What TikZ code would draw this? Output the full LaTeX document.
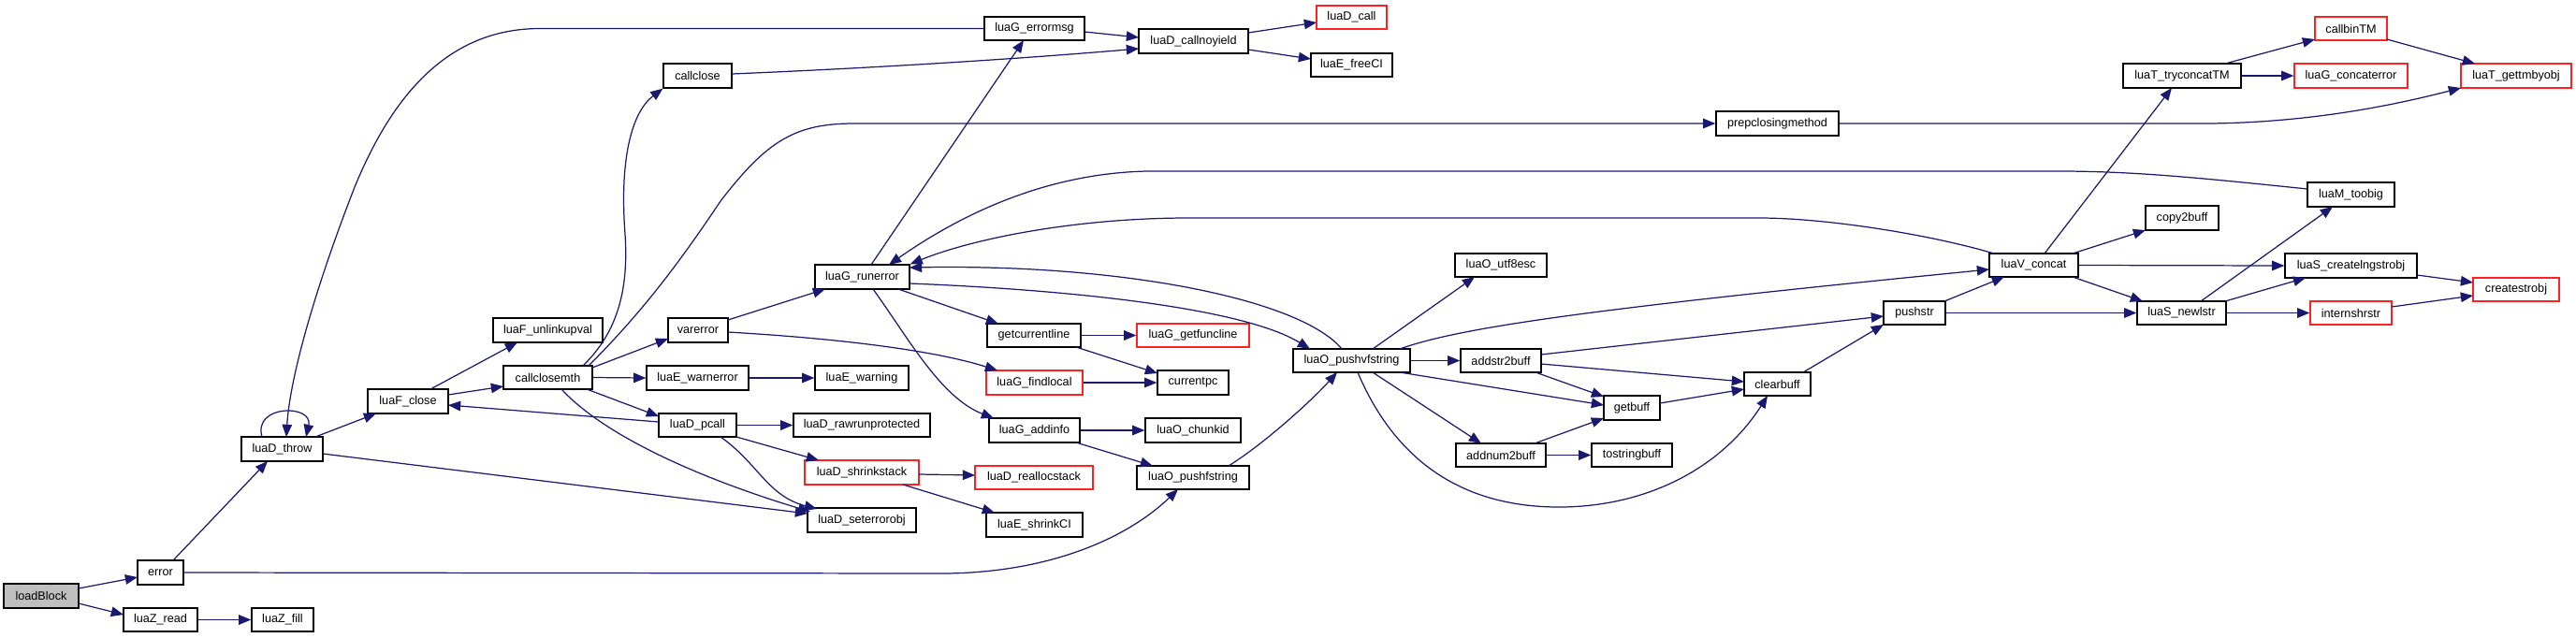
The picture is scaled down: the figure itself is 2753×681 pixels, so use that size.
\documentclass[tikz,border=0pt]{standalone}
\usepackage{fontspec}
\setmainfont{Liberation Sans}
\usetikzlibrary{arrows.meta}
\definecolor{edgecol}{HTML}{191970}
\definecolor{redb}{HTML}{FF2020}
\definecolor{grayfill}{HTML}{BFBFBF}
\newcommand\gnode[7][]{\node[box,#1,minimum width={(#5-#3)*0.02cm},minimum height={(#6-#4)*0.02cm}] (#2) at ({(#3+#5)/2},{(#4+#6)/2}) {#7};}
\begin{document}
\begin{tikzpicture}[x=0.02cm,y=-0.02cm,
  box/.style={draw=black, line width=0.75pt, fill=white, inner sep=0pt, font=\fontsize{7.2pt}{8pt}\selectfont, text=black},
  redbox/.style={draw=redb},
  rootbox/.style={fill=grayfill},
  e/.style={draw=edgecol, line width=0.7pt, -{Triangle[length=7.5pt,width=6pt]}, fill=none}]
\useasboundingbox (0,0) rectangle (2753,681);
% nodes
\gnode[rootbox]{loadBlock}{4}{624}{84}{650}{loadBlock}
\gnode{error}{147}{599}{196}{625}{error}
\gnode{luaZread}{132}{650}{211}{675}{luaZ\_read}
\gnode{luaZfill}{269}{650}{335}{675}{luaZ\_fill}
\gnode{luaDthrow}{258}{467}{345}{493}{luaD\_throw}
\gnode{luaFclose}{393}{416}{479}{442}{luaF\_close}
\gnode{luaFunlinkupval}{527}{340}{644}{366}{luaF\_unlinkupval}
\gnode{callclosemth}{538}{391}{633}{416}{callclosemth}
\gnode{callclose}{709}{68}{782}{94}{callclose}
\gnode{luaGerrormsg}{1052}{18}{1159}{43}{luaG\_errormsg}
\gnode{luaDcallnoyield}{1217}{31}{1334}{57}{luaD\_callnoyield}
\gnode{luaGrunerror}{871}{283}{972}{309}{luaG\_runerror}
\gnode{varerror}{714}{340}{778}{366}{varerror}
\gnode{luaEwarnerror}{691}{391}{800}{417}{luaE\_warnerror}
\gnode{luaEwarning}{871}{391}{971}{417}{luaE\_warning}
\gnode{luaDpcall}{704}{442}{787}{467}{luaD\_pcall}
\gnode{luaDrawrun}{848}{442}{994}{467}{luaD\_rawrunprotected}
\gnode[redbox]{luaDshrinkstack}{860}{492}{982}{518}{luaD\_shrinkstack}
\gnode{luaDseterrorobj}{863}{543}{979}{569}{luaD\_seterrorobj}
\gnode{getcurrentline}{1055}{346}{1155}{371}{getcurrentline}
\gnode[redbox]{luaGgetfuncline}{1215}{346}{1335}{371}{luaG\_getfuncline}
\gnode[redbox]{luaGfindlocal}{1054}{396}{1157}{422}{luaG\_findlocal}
\gnode{currentpc}{1237}{396}{1313}{422}{currentpc}
\gnode{luaGaddinfo}{1057}{447}{1154}{473}{luaG\_addinfo}
\gnode{luaOchunkid}{1224}{447}{1326}{473}{luaO\_chunkid}
\gnode{luaOpushfstring}{1215}{498}{1335}{523}{luaO\_pushfstring}
\gnode[redbox]{luaDrealloc}{1042}{498}{1168}{523}{luaD\_reallocstack}
\gnode{luaEshrinkCI}{1054}{548}{1157}{574}{luaE\_shrinkCI}
\gnode[redbox]{luaDcall}{1407}{6}{1482}{31}{luaD\_call}
\gnode{luaEfreeCI}{1401}{57}{1488}{82}{luaE\_freeCI}
\gnode{prepclosing}{1834}{119}{1965}{145}{prepclosingmethod}
\gnode{luaOutf8esc}{1555}{271}{1653}{296}{luaO\_utf8esc}
\gnode{pushstr}{2013}{322}{2079}{347}{pushstr}
\gnode{luaOpushvfstring}{1382}{373}{1507}{398}{luaO\_pushvfstring}
\gnode{addstr2buff}{1561}{373}{1647}{398}{addstr2buff}
\gnode{getbuff}{1714}{423}{1774}{449}{getbuff}
\gnode{clearbuff}{1864}{398}{1935}{423}{clearbuff}
\gnode{addnum2buff}{1556}{474}{1652}{499}{addnum2buff}
\gnode{tostringbuff}{1701}{474}{1787}{499}{tostringbuff}
\gnode[redbox]{callbinTM}{2474}{18}{2551}{43}{callbinTM}
\gnode{luaTtryconcatTM}{2269}{68}{2395}{94}{luaT\_tryconcatTM}
\gnode[redbox]{luaGconcaterror}{2452}{68}{2573}{94}{luaG\_concaterror}
\gnode[redbox]{luaTgettmbyobj}{2630}{68}{2748}{94}{luaT\_gettmbyobj}
\gnode{luaMtoobig}{2466}{195}{2559}{221}{luaM\_toobig}
\gnode{copy2buff}{2293}{220}{2371}{246}{copy2buff}
\gnode{luaVconcat}{2126}{271}{2221}{296}{luaV\_concat}
\gnode{luaScreatelngstrobj}{2442}{271}{2583}{297}{luaS\_createlngstrobj}
\gnode[redbox]{createstrobj}{2643}{297}{2735}{322}{createstrobj}
\gnode{luaSnewlstr}{2284}{322}{2379}{347}{luaS\_newlstr}
\gnode[redbox]{internshrstr}{2469}{322}{2556}{347}{internshrstr}
% edges
\draw[e] ([shift={(40,-8)}]loadBlock.center) -- ([shift={(-24.5,5)}]error.center);
\draw[e] ([shift={(40,8)}]loadBlock.center) -- ([shift={(-39.5,-5.5)}]luaZread.center);
\draw[e] (luaZread.east) -- (luaZfill.west);
\draw[e] ([shift={(13.5,-13)}]error.center) -- ([shift={(-15.5,13)}]luaDthrow.center);
\draw[e] (error.east) -- (1000,613) .. controls (1120,614) and (1205,575) .. ([shift={(-16,12.5)}]luaOpushfstring.center);
\draw[e] ([shift={(-21.5,-13)}]luaDthrow.center) .. controls (270,432) and (335,432) .. ([shift={(25.5,-13)}]luaDthrow.center);
\draw[e] ([shift={(35.5,-13)}]luaDthrow.center) -- ([shift={(-34,13)}]luaFclose.center);
\draw[e] ([shift={(43.5,5)}]luaDthrow.center) -- ([shift={(-58,-7)}]luaDseterrorobj.center);
\draw[e] ([shift={(24,-13)}]luaFclose.center) -- ([shift={(-32.5,13)}]luaFunlinkupval.center);
\draw[e] ([shift={(43,-7)}]luaFclose.center) -- ([shift={(-47.5,9.5)}]callclosemth.center);
\draw[e] ([shift={(-41.5,-3.5)}]luaDpcall.center) -- ([shift={(43,4)}]luaFclose.center);
\draw[e] ([shift={(37.5,-12.5)}]callclosemth.center) .. controls (660,355) and (672,310) .. (668,250) .. controls (662,170) and (675,120) .. (callclose.south west);
\draw[e] ([shift={(43.5,-12.5)}]callclosemth.center) .. controls (680,340) and (720,290) .. (770,215) .. controls (820,150) and (850,132) .. (913,132) -- (prepclosing.west);
\draw[e] ([shift={(47.5,-10.5)}]callclosemth.center) -- ([shift={(-32,9)}]varerror.center);
\draw[e] (callclosemth.east) -- (luaEwarnerror.west);
\draw[e] ([shift={(41.5,12.5)}]callclosemth.center) -- ([shift={(-41.5,-9.5)}]luaDpcall.center);
\draw[e] ([shift={(14.5,12.5)}]callclosemth.center) .. controls (650,470) and (760,515) .. ([shift={(-55,-9)}]luaDseterrorobj.center);
\draw[e] ([shift={(24.5,12.5)}]luaDpcall.center) .. controls (810,495) and (820,530) .. ([shift={(-48,-12)}]luaDseterrorobj.center);
\draw[e] (luaDpcall.east) -- (luaDrawrun.west);
\draw[e] ([shift={(41.5,12.5)}]luaDpcall.center) -- ([shift={(-46,-13)}]luaDshrinkstack.center);
\draw[e] ([shift={(61,2)}]luaDshrinkstack.center) -- ([shift={(-63,-2.5)}]luaDrealloc.center);
\draw[e] ([shift={(44,13)}]luaDshrinkstack.center) -- ([shift={(-42.5,-13)}]luaEshrinkCI.center);
\draw[e] (luaEwarnerror.east) -- (luaEwarning.west);
\draw[e] ([shift={(32,-11)}]varerror.center) -- ([shift={(-39.5,13)}]luaGrunerror.center);
\draw[e] ([shift={(32,2)}]varerror.center) .. controls (900,362) and (1000,375) .. ([shift={(-39.5,-13)}]luaGfindlocal.center);
\draw[e] ([shift={(9.5,-13)}]luaGrunerror.center) -- ([shift={(-11.5,12.5)}]luaGerrormsg.center);
\draw[e] ([shift={(38.5,13)}]luaGrunerror.center) -- ([shift={(-38,-12.5)}]getcurrentline.center);
\draw[e] ([shift={(11.5,13)}]luaGrunerror.center) .. controls (970,360) and (1005,425) .. ([shift={(-43.5,-13)}]luaGaddinfo.center);
\draw[e] ([shift={(50.5,7)}]luaGrunerror.center) .. controls (1150,310) and (1330,330) .. ([shift={(-44.5,-12.5)}]luaOpushvfstring.center);
\draw[e] ([shift={(-10.5,-12.5)}]luaOpushvfstring.center) .. controls (1390,320) and (1200,282) .. ([shift={(50.5,-10)}]luaGrunerror.center);
\draw[e] (getcurrentline.east) -- (luaGgetfuncline.west);
\draw[e] ([shift={(45,12.5)}]getcurrentline.center) -- ([shift={(-38,-10)}]currentpc.center);
\draw[e] (luaGfindlocal.east) -- (currentpc.west);
\draw[e] (luaGaddinfo.east) -- (luaOchunkid.west);
\draw[e] ([shift={(44.5,13)}]luaGaddinfo.center) -- ([shift={(-43,-12.5)}]luaOpushfstring.center);
\draw[e] ([shift={(38,-12.5)}]luaOpushfstring.center) .. controls (1350,475) and (1400,430) .. ([shift={(-15.5,12.5)}]luaOpushvfstring.center);
\draw[e] ([shift={(53.5,3.5)}]luaGerrormsg.center) -- ([shift={(-58.5,-4)}]luaDcallnoyield.center);
\draw[e] (luaGerrormsg.west) -- (576,30.5) .. controls (480,31) and (420,100) .. (379,200) .. controls (340,300) and (310,400) .. ([shift={(4.5,-13)}]luaDthrow.center);
\draw[e] ([shift={(36.5,-2)}]callclose.center) .. controls (950,72) and (1100,62) .. ([shift={(-58.5,8)}]luaDcallnoyield.center);
\draw[e] ([shift={(58.5,-9)}]luaDcallnoyield.center) -- ([shift={(-37.5,5.5)}]luaDcall.center);
\draw[e] ([shift={(58.5,9)}]luaDcallnoyield.center) -- ([shift={(-43.5,-6.5)}]luaEfreeCI.center);
\draw[e] (prepclosing.east) -- (2360,132) .. controls (2470,131) and (2560,112) .. ([shift={(-59,13)}]luaTgettmbyobj.center);
\draw[e] ([shift={(-46.5,-6)}]luaMtoobig.center) .. controls (2350,190) and (2280,183) .. (2200,183) -- (1226,183) .. controls (1130,185) and (1040,220) .. ([shift={(28.5,-13)}]luaGrunerror.center);
\draw[e] ([shift={(-42.5,-12.5)}]luaVconcat.center) .. controls (2060,250) and (1950,233) .. (1880,233) -- (1270,233) .. controls (1150,233) and (1040,255) .. (luaGrunerror.north east);
\draw[e] ([shift={(22.5,-12.5)}]luaOpushvfstring.center) -- ([shift={(-28,12.5)}]luaOutf8esc.center);
\draw[e] ([shift={(51.5,-12.5)}]luaOpushvfstring.center) .. controls (1560,350) and (1700,330) .. ([shift={(-47.5,4.5)}]luaVconcat.center);
\draw[e] (luaOpushvfstring.east) -- (addstr2buff.west);
\draw[e] ([shift={(51.5,12.5)}]luaOpushvfstring.center) -- ([shift={(-30,-3)}]getbuff.center);
\draw[e] ([shift={(22.5,12.5)}]luaOpushvfstring.center) -- ([shift={(-21,-12.5)}]addnum2buff.center);
\draw[e] ([shift={(6.5,12.5)}]luaOpushvfstring.center) .. controls (1490,490) and (1560,542) .. (1666,542) .. controls (1760,542) and (1840,500) .. ([shift={(-10.5,12.5)}]clearbuff.center);
\draw[e] ([shift={(43,-6.5)}]addstr2buff.center) -- ([shift={(-33,3.5)}]pushstr.center);
\draw[e] ([shift={(43,3.5)}]addstr2buff.center) -- ([shift={(-35.5,-2.5)}]clearbuff.center);
\draw[e] ([shift={(37,12.5)}]addstr2buff.center) -- ([shift={(-30,-12)}]getbuff.center);
\draw[e] ([shift={(36,-12.5)}]addnum2buff.center) -- ([shift={(-30,11)}]getbuff.center);
\draw[e] (addnum2buff.east) -- (tostringbuff.west);
\draw[e] ([shift={(30,-5)}]getbuff.center) -- ([shift={(-35.5,5.5)}]clearbuff.center);
\draw[e] ([shift={(27.5,-12.5)}]clearbuff.center) -- ([shift={(-33,12.5)}]pushstr.center);
\draw[e] ([shift={(32,-12.5)}]pushstr.center) -- ([shift={(-31.5,12.5)}]luaVconcat.center);
\draw[e] (pushstr.east) -- (luaSnewlstr.west);
\draw[e] ([shift={(11.5,-12.5)}]luaVconcat.center) -- ([shift={(-11,13)}]luaTtryconcatTM.center);
\draw[e] ([shift={(41.5,-12.5)}]luaVconcat.center) -- ([shift={(-39,13)}]copy2buff.center);
\draw[e] (luaVconcat.east) -- (luaScreatelngstrobj.west);
\draw[e] ([shift={(41.5,12.5)}]luaVconcat.center) -- ([shift={(-41.5,-12.5)}]luaSnewlstr.center);
\draw[e] ([shift={(46,-13)}]luaTtryconcatTM.center) -- ([shift={(-38.5,11.5)}]callbinTM.center);
\draw[e] (luaTtryconcatTM.east) -- (luaGconcaterror.west);
\draw[e] ([shift={(38.5,11.5)}]callbinTM.center) -- ([shift={(-44,-13)}]luaTgettmbyobj.center);
\draw[e] ([shift={(20.5,-12.5)}]luaSnewlstr.center) -- ([shift={(-19.5,13)}]luaMtoobig.center);
\draw[e] ([shift={(46.5,-12.5)}]luaSnewlstr.center) -- ([shift={(-48.5,13)}]luaScreatelngstrobj.center);
\draw[e] (luaSnewlstr.east) -- (internshrstr.west);
\draw[e] ([shift={(70.5,10)}]luaScreatelngstrobj.center) -- ([shift={(-46,-7.5)}]createstrobj.center);
\draw[e] ([shift={(43.5,-6.5)}]internshrstr.center) -- ([shift={(-46,6.5)}]createstrobj.center);
\end{tikzpicture}
\end{document}
